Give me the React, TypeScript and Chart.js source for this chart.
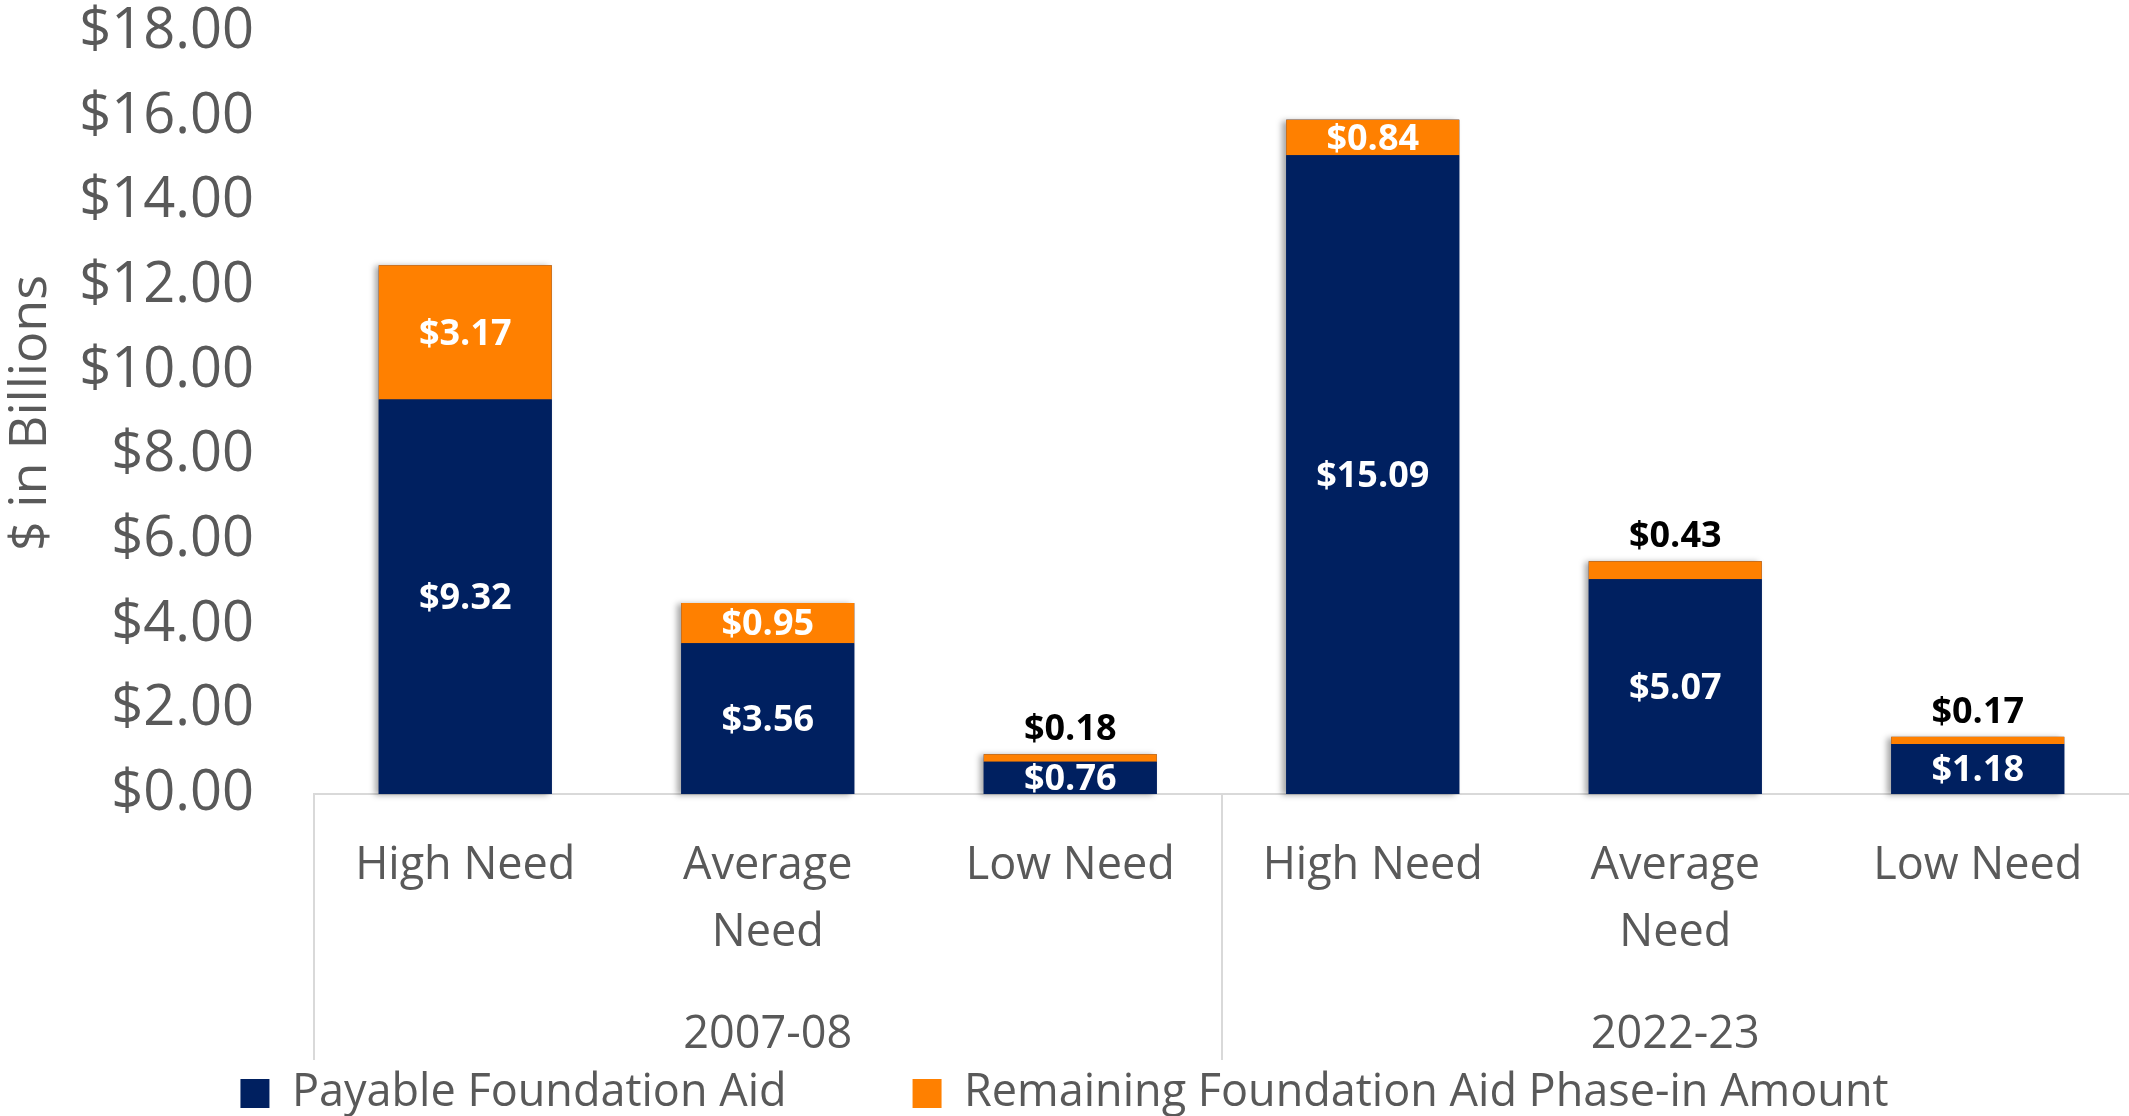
import React, { useEffect, useRef } from "react";
import { Chart, registerables } from "chart.js";

Chart.register(...registerables);

// ---- Data ----
const categoryLabels: string[][] = [
  ["High Need"],
  ["Average", "Need"],
  ["Low Need"],
  ["High Need"],
  ["Average", "Need"],
  ["Low Need"],
];
const yearLabels: string[] = ["", "2007-08", "", "", "2022-23", ""];
const payableAid: number[] = [9.32, 3.56, 0.76, 15.09, 5.07, 1.18];
const remainingPhaseIn: number[] = [3.17, 0.95, 0.18, 0.84, 0.43, 0.17];
const seriesNames: string[] = [
  "Payable Foundation Aid",
  "Remaining Foundation Aid Phase-in Amount",
];
const yTickMin = 0;
const yTickMax = 18;
const yTickStep = 2;
const yAxisTitle = "$ in Billions";

// ---- Styles ----
const NAVY = "#002060";
const ORANGE = "#FF8000";
const TEXT = "#595959";
const LINE = "#D9D9D9";
const FONT = "'Open Sans', 'Noto Sans', sans-serif";

const shadowPlugin = {
  id: "barShadow",
  beforeDatasetsDraw(chart: any) {
    const ctx = chart.ctx;
    const m0 = chart.getDatasetMeta(0);
    const m1 = chart.getDatasetMeta(1);
    ctx.save();
    ctx.shadowColor = "rgba(0,0,0,0.35)";
    ctx.shadowBlur = 6;
    ctx.shadowOffsetX = -4;
    ctx.shadowOffsetY = 1;
    ctx.fillStyle = NAVY;
    m0.data.forEach((el: any, i: number) => {
      const p0 = el.getProps(["x", "y", "base", "width"], true);
      const p1 = m1.data[i].getProps(["y"], true);
      const top = Math.min(p0.y, p1.y);
      ctx.fillRect(p0.x - p0.width / 2, top, p0.width, p0.base - top);
    });
    ctx.restore();
  },
};

const labelPlugin = {
  id: "valueLabels",
  afterDatasetsDraw(chart: any) {
    const { ctx, chartArea } = chart;
    ctx.save();
    ctx.beginPath();
    ctx.rect(chartArea.left, chartArea.top, chartArea.right - chartArea.left, chartArea.bottom - chartArea.top);
    ctx.clip();
    ctx.font = `bold 36px ${FONT}`;
    ctx.textAlign = "center";
    ctx.textBaseline = "middle";
    chart.data.datasets.forEach((ds: any, di: number) => {
      const meta = chart.getDatasetMeta(di);
      meta.data.forEach((el: any, i: number) => {
        const v = ds.data[i] as number;
        const { x, y, base } = el.getProps(["x", "y", "base"], true);
        const text = "$" + v.toFixed(2);
        const h = Math.abs(base - y);
        if (di === 0 || h >= 30) {
          ctx.fillStyle = "#FFFFFF";
          ctx.fillText(text, x, (y + base) / 2 + 2);
        } else {
          ctx.fillStyle = "#000000";
          ctx.fillText(text, x, y - 24);
        }
      });
    });
    ctx.restore();
  },
};

export default function App() {
  const canvasRef = useRef<HTMLCanvasElement | null>(null);

  useEffect(() => {
    if (!canvasRef.current) return;
    Chart.defaults.font.family = FONT;
    const chart = new Chart(canvasRef.current, {
      type: "bar",
      data: {
        labels: categoryLabels as any,
        datasets: [
          {
            label: seriesNames[0],
            data: payableAid,
            backgroundColor: NAVY,
            borderWidth: 0,
            barPercentage: 0.572,
            categoryPercentage: 1,
          },
          {
            label: seriesNames[1],
            data: remainingPhaseIn,
            backgroundColor: ORANGE,
            borderWidth: 0,
            barPercentage: 0.572,
            categoryPercentage: 1,
          },
        ],
      },
      options: {
        responsive: false,
        animation: false,
        devicePixelRatio: 1,
        layout: { padding: { top: 32, left: 0, right: 0, bottom: -10 } },
        plugins: {
          legend: {
            position: "bottom",
            labels: {
              boxWidth: 29,
              boxHeight: 29,
              padding: 126,
              color: TEXT,
              font: { size: 45, family: FONT },
            },
          },
          tooltip: { enabled: false },
        },
        scales: {
          x: {
            type: "category",
            stacked: true,
            offset: true,
            grid: {
              display: true,
              offset: true,
              drawOnChartArea: false,
              drawTicks: true,
              tickLength: 266,
              lineWidth: 2,
              color: (c: any) => (c.index === 0 || c.index === 3 ? LINE : "rgba(0,0,0,0)"),
            },
            border: { display: true, color: LINE, width: 2 },
            ticks: {
              autoSkip: false,
              maxRotation: 0,
              minRotation: 0,
              mirror: true,
              padding: -105.5,
              color: TEXT,
              font: { size: 45, lineHeight: 67 / 45, family: FONT },
            },
            afterFit: (s: any) => {
              s.height = 100;
            },
          } as any,
          x2: {
            type: "category",
            axis: "x",
            position: "bottom",
            weight: 1,
            labels: yearLabels,
            offset: true,
            grid: { display: false, drawTicks: false },
            border: { display: false },
            ticks: {
              autoSkip: false,
              maxRotation: 0,
              minRotation: 0,
              mirror: true,
              padding: -168,
              color: TEXT,
              font: { size: 45, lineHeight: 1.2, family: FONT },
            },
            afterFit: (s: any) => {
              s.height = 51;
            },
          } as any,
          y: {
            stacked: true,
            min: yTickMin,
            max: yTickMax,
            ticks: {
              stepSize: yTickStep,
              padding: 0,
              color: TEXT,
              font: { size: 56, lineHeight: 1, family: FONT },
              callback: (v: any) => "$" + Number(v).toFixed(2),
            },
            grid: { display: false, drawTicks: true, tickLength: 60 },
            border: { display: false },
            title: {
              display: true,
              text: yAxisTitle,
              color: TEXT,
              font: { size: 52, lineHeight: 1.2, family: FONT },
              padding: 0,
            },
            afterFit: (s: any) => {
              s.width = 314;
            },
          } as any,
        },
      },
      plugins: [shadowPlugin, labelPlugin],
    });
    return () => chart.destroy();
  }, []);

  return (
    <div style={{ position: "fixed", left: 0, top: 0, width: 2129, height: 1116, background: "#fff" }}>
      <canvas ref={canvasRef} width={2129} height={1116} style={{ display: "block" }} />
    </div>
  );
}
